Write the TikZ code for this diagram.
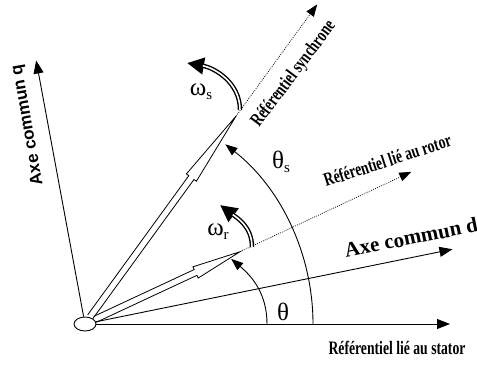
\documentclass[tikz,border=0pt]{standalone}
\usepackage{fontspec}
\setmainfont{Liberation Serif}
\newfontfamily\condserif[FakeStretch=0.72]{Liberation Serif}
\newfontfamily\axsans{Liberation Sans}
\usetikzlibrary{arrows.meta,calc,shapes.geometric}

\begin{document}
\begin{tikzpicture}[x=1pt,y=1pt,
  axis/.style={line width=.9pt,-{Triangle[length=13pt,width=10pt]}},
  frame/.style={line width=.7pt,dash pattern=on .9pt off 1.2pt,-{Triangle[length=12pt,width=9pt]}},
  hollow/.style={line width=.8pt,line join=miter},
  anglearc/.style={line width=.9pt,-{Triangle[length=12pt,width=9pt]}},
  spin/.style={line width=4.4pt,-{Triangle[length=17pt,width=16pt]}},
  spincore/.style={white,line width=1.6pt,shorten >=16pt},
  frametext/.style={font=\condserif\bfseries\fontsize{19}{19}\selectfont,inner sep=0pt},
  greek/.style={font=\fontsize{25}{25}\selectfont,inner sep=0pt}]
\useasboundingbox (0,0) rectangle (477,365);
\node[draw,ellipse,line width=.9pt,minimum width=22pt,minimum height=14pt,inner sep=0pt] (O) at (85,41) {};
\coordinate (sT) at (450,41);
\coordinate (dT) at ($(O)+(11.5:375)$);
\coordinate (qT) at ($(O)+(100.5:268)$);
\draw[axis] (O) -- (sT);
\draw[axis] (O) -- (dT);
\draw[axis] (O) -- (qT);
\begin{scope}[shift={(O)},rotate=54]
\draw[hollow] (9,3.2) -- (181,3.2) -- (181,6.2) -- (257,0) -- (181,-6.2) -- (181,-3.2) -- (9,-3.2);
\end{scope}
\begin{scope}[shift={(O)},rotate=25]
\draw[hollow] (11,3.2) -- (122,3.2) -- (122,6.2) -- (171,0) -- (122,-6.2) -- (122,-3.2) -- (11,-3.2);
\end{scope}
\coordinate (yH) at ($(O)+(54:257)$);
\coordinate (rH) at ($(O)+(25:171)$);
\coordinate (yT) at ($(O)+(54:395)$);
\coordinate (rT) at ($(O)+(25:360)$);
\draw[frame] (yH) -- (yT);
\draw[frame] (rH) -- (rT);
\coordinate (ths0) at ($(O)+(228,0)$);
\draw[anglearc] (ths0) arc[start angle=0,end angle=52,radius=228];
\coordinate (th0) at ($(O)+(182,0)$);
\coordinate (th1) at ($(O)+(24:160)$);
\draw[anglearc] (th0) to[out=90,in=-40] (th1);
\coordinate (ws0) at (240,255);
\coordinate (ws1) at (187,302);
\draw[spin] (ws0) to[out=90,in=-10] (ws1);
\draw[spincore] (ws0) to[out=90,in=-10] (ws1);
\coordinate (wr0) at (252,118);
\coordinate (wr1) at (220,160);
\draw[spin] (wr0) to[out=90,in=-37] (wr1);
\draw[spincore] (wr0) to[out=90,in=-37] (wr1);
\node[frametext,anchor=base] (stL) at (397,11) {Référentiel lié au stator};
\node[font=\bfseries\fontsize{21}{21}\selectfont,rotate=11.5,anchor=base west,inner sep=0pt] (dL) at (346,107) {Axe commun d};
\node[font=\axsans\bfseries\fontsize{17}{17}\selectfont,rotate=100,inner sep=0pt] (qL) at (28,240) {Axe commun q};
\node[frametext,rotate=53,anchor=base west] (yL) at (259,237) {Référentiel synchrone};
\node[frametext,rotate=18,anchor=base west] (rL) at (326,178) {Référentiel lié au rotor};
\node[greek] (wsL) at (201,273) {ω\raisebox{-4pt}{\fontsize{15}{15}\selectfont s}};
\node[greek] (wrL) at (218,133) {ω\raisebox{-4pt}{\fontsize{15}{15}\selectfont r}};
\node[greek] (thsL) at (281,203) {θ\raisebox{-4pt}{\fontsize{15}{15}\selectfont s}};
\node[greek] (thL) at (283,53) {θ};
\end{tikzpicture}
\end{document}
